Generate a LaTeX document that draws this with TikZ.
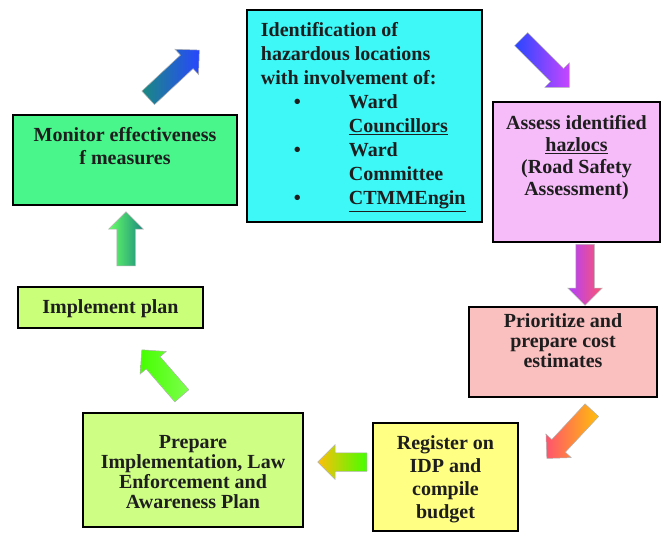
\documentclass[tikz,border=0pt]{standalone}
\usepackage{fontspec}
\setmainfont{Liberation Serif}
\usetikzlibrary{positioning,shapes.arrows}

\definecolor{identcyan}{RGB}{62,248,248}
\definecolor{assesspink}{RGB}{246,188,250}
\definecolor{monitorgreen}{RGB}{72,246,140}
\definecolor{implgreen}{RGB}{202,255,122}
\definecolor{priorpink}{RGB}{250,192,192}
\definecolor{prepgreen}{RGB}{206,255,132}
\definecolor{regyellow}{RGB}{255,255,132}
\definecolor{textdark}{RGB}{30,30,30}
% arrow colours
\definecolor{arrteal}{RGB}{26,138,128}
\definecolor{arrblue}{RGB}{40,70,255}
\definecolor{arrviolet}{RGB}{200,70,255}
\definecolor{arrpurple}{RGB}{176,64,255}
\definecolor{arrred}{RGB}{255,84,110}
\definecolor{arrorange}{RGB}{255,190,10}
\definecolor{arrlime}{RGB}{70,255,0}
\definecolor{arrlight}{RGB}{102,255,102}

\newcommand\hzitem[1]{\hspace*{33pt}\makebox[55pt][l]{\textbullet}#1}
\newcommand\hzcont[1]{\hspace*{88pt}#1}

\tikzset{
  stepbox/.style={draw=black, line width=2.6pt, inner sep=0pt},
  boxtext/.style={inner sep=0pt, align=center, text=textdark,
    font=\fontsize{20}{23}\selectfont\bfseries},
  blockarrow/.style={single arrow, draw=black!30, line width=.5pt,
    inner xsep=0pt, inner ysep=9pt, single arrow head extend=8pt, anchor=tail}
}

\begin{document}
\begin{tikzpicture}[x=1pt,y=-1pt]
\useasboundingbox[fill=white] (0,0) rectangle (663,535);

% boxes
\node[stepbox, fill=identcyan, minimum width=235pt, minimum height=212pt] (ident) at (364.5,116) {};
\node[stepbox, fill=assesspink, minimum width=167pt, minimum height=140pt] (assess) at (576.5,172) {};
\node[stepbox, fill=priorpink, minimum width=188pt, minimum height=90pt] (prior) at (563,352) {};
\node[stepbox, fill=regyellow, minimum width=145pt, minimum height=108pt] (reg) at (445.5,477) {};
\node[stepbox, fill=prepgreen, minimum width=220pt, minimum height=114pt] (prep) at (193,470) {};
\node[stepbox, fill=implgreen, minimum width=185pt, minimum height=41pt] (impl) at (110.5,307.5) {};
\node[stepbox, fill=monitorgreen, minimum width=224pt, minimum height=90pt] (monitor) at (125,160) {};

% texts
\node[boxtext, align=left, font=\fontsize{20}{24}\selectfont\bfseries,
  below right=14pt and 15pt of ident.north west] (identtxt)
  {Identification of\\hazardous locations\\with involvement of:\\
   \hzitem{Ward}\\\hzcont{\underline{Councillors}}\\
   \hzitem{Ward}\\\hzcont{Committee}\\
   \hzitem{\underline{CTMMEngin}}};
\node[boxtext, font=\fontsize{20}{22}\selectfont\bfseries, below=15pt of assess.north] (assesstxt)
  {Assess identified\\\underline{hazlocs}\\(Road Safety\\Assessment)};
\node[boxtext, font=\fontsize{20}{20}\selectfont\bfseries, below=8pt of prior.north] (priortxt)
  {Prioritize and\\prepare cost\\estimates};
\node[boxtext, below=14pt of reg.north] (regtxt) {Register on\\IDP and\\compile\\budget};
\node[boxtext, font=\fontsize{20}{20}\selectfont\bfseries, below=23pt of prep.north] (preptxt)
  {Prepare\\Implementation, Law\\Enforcement and\\Awareness Plan};
\node[boxtext, below=14pt of impl.north] (impltxt) {Implement plan};
\node[boxtext, below=14pt of monitor.north] (monitortxt) {Monitor effectiveness\\f measures};

% block arrows: tail x / tail y / angle / length / tail colour / tip colour
\foreach \tx/\ty/\ang/\len/\cola/\colb [count=\i] in
  {148/98/43/70/arrteal/arrblue,
   521/39/-45/68/arrblue/arrviolet,
   585/244/-90/61/arrpurple/arrred,
   592/410/-133/66/arrred/arrorange,
   367/462/180/49/arrorange/arrlime,
   182/396/131/61/arrlime/arrlime!70!white,
   126/266/90/54/arrlight/arrteal}
  \node[blockarrow, rotate=\ang, minimum height=\len pt,
    left color=\cola, right color=\colb] (arr\i) at (\tx,\ty) {};
\end{tikzpicture}
\end{document}
